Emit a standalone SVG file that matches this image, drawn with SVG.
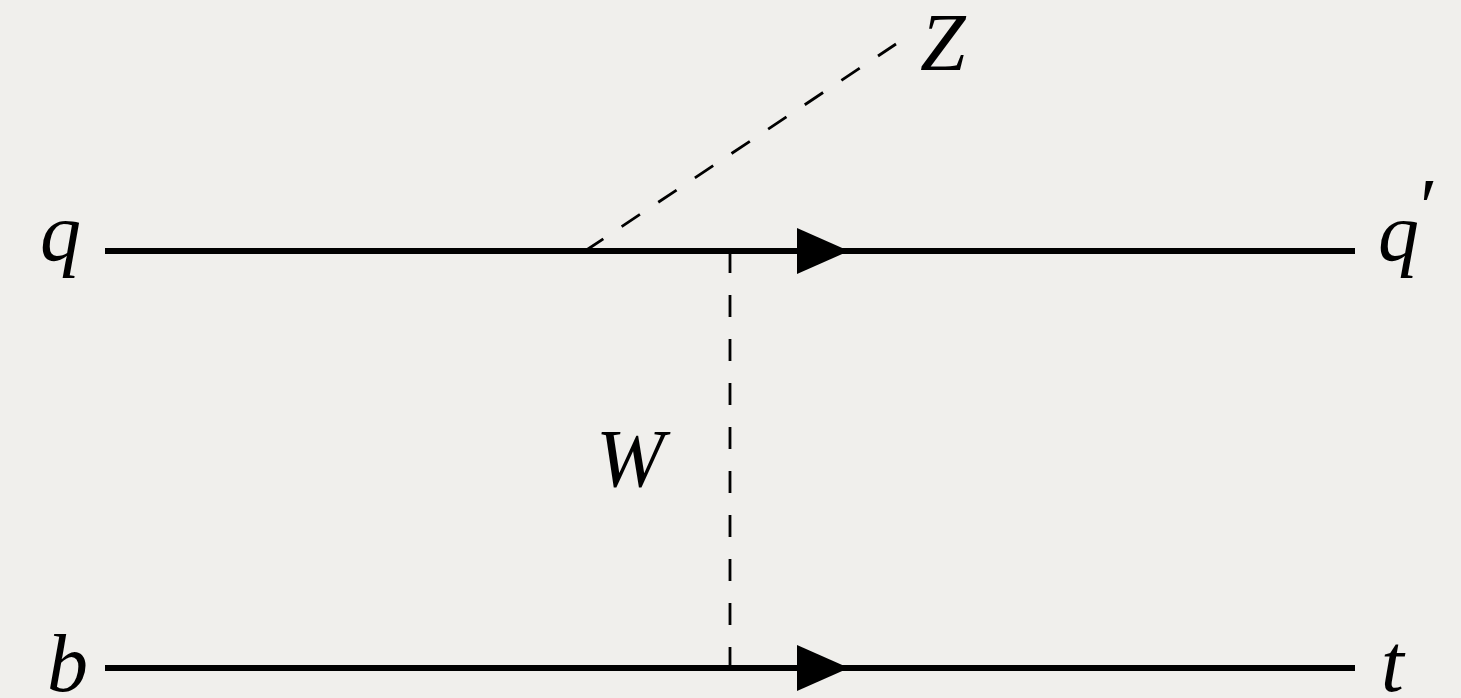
<svg xmlns="http://www.w3.org/2000/svg" width="1461" height="698" viewBox="0 0 1461 698">
<style>
.fermion{stroke:#000;stroke-width:6;fill:none}
.boson{stroke:#000;stroke-width:2.8;fill:none;stroke-dasharray:22 22}
.arrow{fill:#000}
.lbl{font-family:"Liberation Serif","Times New Roman",serif;font-style:italic;font-size:82px;fill:#000}
</style>
<rect x="0" y="0" width="1461" height="698" fill="#f0efec"/>
<g id="connectors">
<line class="fermion" x1="105" y1="251" x2="1355" y2="251"/>
<line class="fermion" x1="105" y1="668" x2="1355" y2="668"/>
<polygon class="arrow" points="797,228 849,251 797,274"/>
<polygon class="arrow" points="797,645 849,668 797,691"/>
<line class="boson" x1="730" y1="251" x2="730" y2="669"/>
<line class="boson" x1="585" y1="251" x2="896" y2="44"/>
</g>
<g id="node-q"><text class="lbl" x="40" y="260">q</text></g>
<g id="node-qprime"><text class="lbl" x="1378" y="260">q<tspan dx="-4" dy="-26" font-size="80">′</tspan></text></g>
<g id="node-b"><text class="lbl" x="47" y="691">b</text></g>
<g id="node-t"><text class="lbl" x="1381" y="691">t</text></g>
<g id="node-Z"><text class="lbl" x="920" y="70">Z</text></g>
<g id="node-W"><text class="lbl" x="596" y="486">W</text></g>
</svg>
